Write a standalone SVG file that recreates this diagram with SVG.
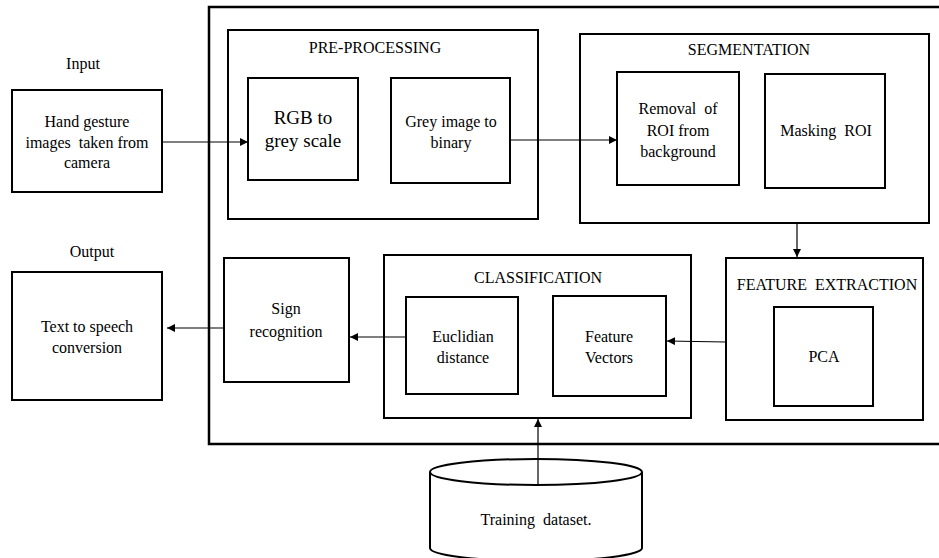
<svg xmlns="http://www.w3.org/2000/svg" width="939" height="558" viewBox="0 0 939 558">
<defs>
<style>
.box{fill:#fff;stroke:#000;stroke-width:2}
.frame{fill:none;stroke:#000;stroke-width:2.5}
text{font-family:'Liberation Serif','DejaVu Serif',serif;font-size:16px;fill:#000;text-anchor:middle}
.big{font-size:19px}
.c{stroke:#000;stroke-width:1.2;fill:none;marker-end:url(#ah)}
</style>
<marker id="ah" viewBox="0 0 10 10" refX="10" refY="5" markerWidth="8" markerHeight="8" markerUnits="userSpaceOnUse" orient="auto">
<path d="M0,0 L10,5 L0,10 z" fill="#000"/>
</marker>
</defs>
<rect width="939" height="558" fill="#fff"/>

<g id="system-frame">
<rect class="frame" x="209" y="7" width="740" height="437"/>
</g>

<g id="input">
<text x="83" y="69">Input</text>
<rect class="box" x="12" y="90" width="150" height="102"/>
<text x="87" y="127">Hand gesture</text>
<text x="87" y="148" xml:space="preserve">images  taken from</text>
<text x="87" y="168">camera</text>
</g>

<g id="pre-processing">
<rect class="box" x="228" y="30" width="310" height="189"/>
<text x="375" y="53">PRE-PROCESSING</text>
</g>
<g id="rgb-to-grey">
<rect class="box" x="248" y="78" width="110" height="102"/>
<text class="big" x="303" y="124">RGB to</text>
<text class="big" x="303" y="147">grey scale</text>
</g>
<g id="grey-to-binary">
<rect class="box" x="391" y="78" width="119" height="105"/>
<text x="451" y="127">Grey image to</text>
<text x="451" y="148">binary</text>
</g>

<g id="segmentation">
<rect class="box" x="580" y="34" width="349" height="189"/>
<text x="749" y="55">SEGMENTATION</text>
</g>
<g id="removal">
<rect class="box" x="617" y="72" width="122" height="113"/>
<text x="678" y="114" xml:space="preserve">Removal  of</text>
<text x="678" y="136">ROI from</text>
<text x="678" y="157">background</text>
</g>
<g id="masking">
<rect class="box" x="765" y="74" width="120" height="114"/>
<text x="826" y="136" xml:space="preserve">Masking  ROI</text>
</g>

<g id="feature-extraction">
<rect class="box" x="726" y="258" width="197" height="162"/>
<text x="827" y="290" xml:space="preserve">FEATURE  EXTRACTION</text>
</g>
<g id="pca">
<rect class="box" x="774" y="307" width="99" height="99"/>
<text x="824" y="362">PCA</text>
</g>

<g id="classification">
<rect class="box" x="384" y="255" width="307" height="163"/>
<text x="538" y="283">CLASSIFICATION</text>
</g>
<g id="euclidian">
<rect class="box" x="406" y="297" width="112" height="97"/>
<text x="463" y="342">Euclidian</text>
<text x="463" y="363">distance</text>
</g>
<g id="feature-vectors">
<rect class="box" x="553" y="296" width="113" height="100"/>
<text x="609" y="342">Feature</text>
<text x="609" y="363">Vectors</text>
</g>

<g id="sign-recognition">
<rect class="box" x="224" y="258" width="125" height="124"/>
<text x="286" y="314">Sign</text>
<text x="286" y="337">recognition</text>
</g>

<g id="output">
<text x="92" y="257">Output</text>
<rect class="box" x="12" y="272" width="150" height="128"/>
<text x="87" y="332">Text to speech</text>
<text x="87" y="353">conversion</text>
</g>

<g id="training-dataset">
<path class="box" d="M430,472 L430,548 A106,13 0 0 0 642,548 L642,472"/>
<ellipse class="box" cx="536" cy="472" rx="106" ry="13"/>
<text x="536" y="525" xml:space="preserve">Training  dataset.</text>
</g>

<g id="connectors">
<line class="c" x1="162" y1="142" x2="248" y2="142"/>
<line class="c" x1="510" y1="140" x2="617" y2="140"/>
<line class="c" x1="797" y1="223" x2="797" y2="257"/>
<line class="c" x1="726" y1="342" x2="667" y2="341"/>
<line class="c" x1="406" y1="337" x2="350" y2="337"/>
<line class="c" x1="224" y1="328" x2="167" y2="328"/>
<line class="c" x1="538" y1="485" x2="538" y2="419"/>
</g>
</svg>
